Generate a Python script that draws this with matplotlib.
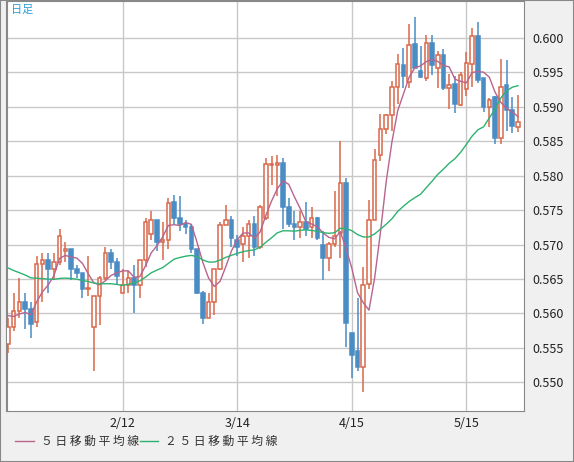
import numpy as np
import pandas as pd
import matplotlib
matplotlib.use("Agg")
import matplotlib.pyplot as plt
from matplotlib.patches import Rectangle

# daily OHLC (90 sessions)
opens = [0.5555, 0.5580, 0.5604, 0.5616, 0.5607, 0.5587, 0.5672, 0.5677, 0.5665, 0.5674,
         0.5690, 0.5693, 0.5665, 0.5658, 0.5635, 0.5580, 0.5626, 0.5652, 0.5687, 0.5675,
         0.5630, 0.5641, 0.5652, 0.5641, 0.5678, 0.5716, 0.5736, 0.5703, 0.5706, 0.5762,
         0.5738, 0.5730, 0.5726, 0.5694, 0.5630, 0.5594, 0.5616, 0.5664, 0.5729, 0.5735,
         0.5707, 0.5701, 0.5713, 0.5730, 0.5697, 0.5739, 0.5816, 0.5816, 0.5819, 0.5754,
         0.5730, 0.5725, 0.5733, 0.5725, 0.5738, 0.5700, 0.5680, 0.5701, 0.5717, 0.5790,
         0.5572, 0.5545, 0.5522, 0.5642, 0.5735, 0.5830, 0.5868, 0.5888, 0.5929, 0.5961,
         0.5936, 0.5991, 0.5952, 0.5942, 0.5993, 0.5957, 0.5975, 0.5928, 0.5933, 0.5903,
         0.5926, 0.5962, 0.6003, 0.5942, 0.5899, 0.5914, 0.5855, 0.5932, 0.5896, 0.5871]
highs = [0.5594, 0.5630, 0.5651, 0.5630, 0.5616, 0.5684, 0.5688, 0.5687, 0.5687, 0.5723,
         0.5703, 0.5693, 0.5670, 0.5658, 0.5684, 0.5626, 0.5655, 0.5697, 0.5694, 0.5680,
         0.5665, 0.5662, 0.5671, 0.5678, 0.5738, 0.5749, 0.5736, 0.5732, 0.5767, 0.5772,
         0.5770, 0.5735, 0.5730, 0.5694, 0.5633, 0.5630, 0.5665, 0.5733, 0.5757, 0.5742,
         0.5714, 0.5726, 0.5735, 0.5742, 0.5758, 0.5825, 0.5829, 0.5830, 0.5826, 0.5767,
         0.5749, 0.5749, 0.5762, 0.5754, 0.5740, 0.5720, 0.5703, 0.5778, 0.5851, 0.5797,
         0.5572, 0.5623, 0.5668, 0.5765, 0.5839, 0.5890, 0.5890, 0.5938, 0.5977, 0.5986,
         0.6020, 0.6030, 0.5988, 0.6004, 0.6004, 0.5981, 0.5984, 0.5948, 0.5945, 0.5951,
         0.5980, 0.6015, 0.6023, 0.5942, 0.5913, 0.5916, 0.5970, 0.5968, 0.5914, 0.5917]
lows = [0.5542, 0.5575, 0.5594, 0.5578, 0.5564, 0.5580, 0.5616, 0.5630, 0.5648, 0.5670,
        0.5674, 0.5648, 0.5652, 0.5623, 0.5626, 0.5517, 0.5583, 0.5648, 0.5665, 0.5641,
        0.5630, 0.5629, 0.5600, 0.5623, 0.5667, 0.5706, 0.5691, 0.5678, 0.5694, 0.5730,
        0.5720, 0.5716, 0.5687, 0.5628, 0.5585, 0.5594, 0.5597, 0.5663, 0.5728, 0.5696,
        0.5684, 0.5675, 0.5681, 0.5684, 0.5694, 0.5735, 0.5786, 0.5771, 0.5723, 0.5725,
        0.5706, 0.5710, 0.5712, 0.5710, 0.5707, 0.5648, 0.5661, 0.5696, 0.5681, 0.5551,
        0.5506, 0.5517, 0.5486, 0.5635, 0.5735, 0.5822, 0.5861, 0.5865, 0.5904, 0.5928,
        0.5928, 0.5956, 0.5942, 0.5938, 0.5946, 0.5928, 0.5925, 0.5897, 0.5891, 0.5901,
        0.5916, 0.5929, 0.5935, 0.5893, 0.5870, 0.5846, 0.5846, 0.5865, 0.5862, 0.5864]
closes = [0.5580, 0.5604, 0.5616, 0.5607, 0.5584, 0.5672, 0.5677, 0.5665, 0.5674, 0.5712,
          0.5693, 0.5665, 0.5658, 0.5635, 0.5637, 0.5626, 0.5652, 0.5687, 0.5674, 0.5655,
          0.5641, 0.5652, 0.5641, 0.5678, 0.5733, 0.5736, 0.5703, 0.5706, 0.5761, 0.5738,
          0.5730, 0.5725, 0.5693, 0.5629, 0.5594, 0.5616, 0.5664, 0.5729, 0.5735, 0.5710,
          0.5697, 0.5712, 0.5730, 0.5697, 0.5755, 0.5817, 0.5817, 0.5819, 0.5754, 0.5730,
          0.5725, 0.5733, 0.5723, 0.5738, 0.5710, 0.5680, 0.5701, 0.5713, 0.5790, 0.5586,
          0.5539, 0.5522, 0.5641, 0.5736, 0.5823, 0.5868, 0.5888, 0.5929, 0.5962, 0.5945,
          0.5990, 0.5957, 0.5943, 0.5993, 0.5961, 0.5975, 0.5928, 0.5932, 0.5904, 0.5946,
          0.5964, 0.6003, 0.5939, 0.5899, 0.5910, 0.5855, 0.5929, 0.5896, 0.5872, 0.5878]
# closes before the visible window (only feed the moving averages)
pre_closes = [0.5700, 0.5695, 0.5690, 0.5688, 0.5685, 0.5690, 0.5685, 0.5680, 0.5682, 0.5678,
              0.5680, 0.5684, 0.5680, 0.5676, 0.5680, 0.5684, 0.5680, 0.5676, 0.5680, 0.5675,
              0.5610, 0.5598, 0.5596, 0.5600]

date_ticks = [20, 40, 60, 80]
date_labels = ["2/12", "3/14", "4/15", "5/15"]
y_ticks = [0.550, 0.555, 0.560, 0.565, 0.570, 0.575, 0.580, 0.585, 0.590, 0.595, 0.600]

UP, DOWN = "#d9674a", "#4a8cc4"
MA5_C, MA25_C = "#b8648e", "#2eb270"

allc = pd.Series(pre_closes + closes)
ma5 = allc.rolling(5).mean().to_numpy()[len(pre_closes):]
ma25 = allc.rolling(25).mean().to_numpy()[len(pre_closes):]

plt.rcParams['font.family'] = ['Noto Sans CJK JP', 'DejaVu Sans']
fig = plt.figure(figsize=(5.74, 4.62), dpi=100, facecolor="#f0f0f0")
ax = fig.add_axes([7 / 574, 51 / 462, 517 / 574, 410 / 462])
ax.set_facecolor("white")

x = np.arange(len(closes))
w = 0.62
for i in x:
    o, h, l, c = opens[i], highs[i], lows[i], closes[i]
    up = c >= o
    col = UP if up else DOWN
    lo, hi = min(o, c), max(o, c)
    ax.plot([i, i], [hi, h], color=col, lw=1.1, zorder=3, solid_capstyle="butt")
    ax.plot([i, i], [l, lo], color=col, lw=1.1, zorder=3, solid_capstyle="butt")
    ax.add_patch(Rectangle((i - w / 2, lo), w, max(hi - lo, 0.00008),
                           facecolor="white" if up else col, edgecolor=col,
                           lw=1.1, zorder=4))

ax.plot(x, ma5, color=MA5_C, lw=1.0, zorder=5)
ax.plot(x, ma25, color=MA25_C, lw=1.0, zorder=5)

ax.set_xlim(-0.17, 90.05)
ax.set_ylim(0.54583, 0.60536)
ax.set_xticks(date_ticks)
ax.set_xticklabels(date_labels)
ax.set_yticks(y_ticks)
ax.set_yticklabels([f"{v:.3f}" for v in y_ticks])
ax.yaxis.tick_right()
ax.tick_params(length=0, labelsize=9, colors="#222222", pad=6)
ax.tick_params(axis="x", pad=4)
ax.grid(True, color="#c8c8c8", lw=1)
ax.set_axisbelow(True)
for s in ax.spines.values():
    s.set_color("#888888")
ax.spines["left"].set_linewidth(1.5)

ax.text(0.008, 0.992, "日足", transform=ax.transAxes, ha="left", va="top",
        fontsize=8, color="#2a9fd6")

# legend at the bottom
ly = 21 / 462
fig.add_artist(plt.Line2D([15 / 574, 34 / 574], [ly, ly], color=MA5_C, lw=1,
                          transform=fig.transFigure))
fig.text(41 / 574, ly, "５ 日 移 動 平 均 線", fontsize=8.5, va="center", color="#333333")
fig.add_artist(plt.Line2D([140 / 574, 158 / 574], [ly, ly], color=MA25_C, lw=1,
                          transform=fig.transFigure))
fig.text(165 / 574, ly, "２ ５ 日 移 動 平 均 線", fontsize=8.5, va="center", color="#333333")

fig.add_artist(Rectangle((0, 0), 1, 1, transform=fig.transFigure, fill=False,
                         edgecolor="#888888", lw=1.5))
fig.savefig("out.png", dpi=100, facecolor=fig.get_facecolor())
